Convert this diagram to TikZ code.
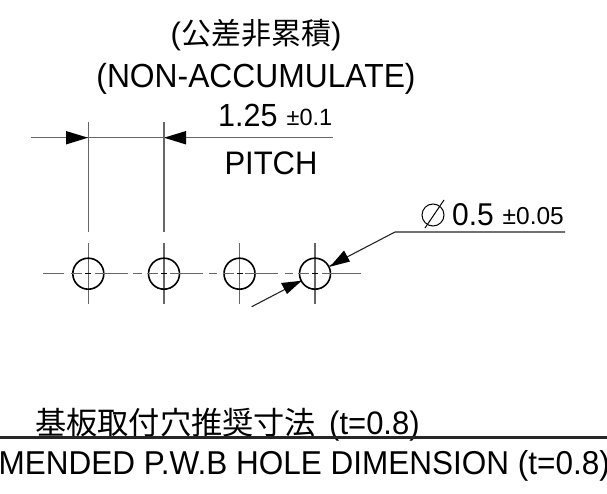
\documentclass[tikz,border=0pt]{standalone}
\usepackage{fontspec}
\setmainfont{Liberation Sans}
\newfontfamily\cjk{Noto Sans CJK JP}
\newcommand{\sz}[1]{\fontsize{#1}{#1}\selectfont}
\tikzset{
  x=1pt,y=-1pt,
  dim/.style={draw=black!60,line width=1.4pt},
  thin leader/.style={draw=black!85,line width=1.1pt},
  hole/.style={draw=black,line width=1.6pt},
  lbl/.style={inner sep=0pt,anchor=base,text=black},
}
\begin{document}
\begin{tikzpicture}
\useasboundingbox (0,0) rectangle (607,494);
\fill[white] (0,0) rectangle (607,494);
% titles
\node[lbl] (t1) at (256,45) {\sz{31}(\cjk\sz{30}公差非累積\sz{31}\normalfont)};
\node[lbl,yscale=1.05] (t2) at (256,87.5) {\sz{31.8}(NON-ACCUMULATE)};
\node[lbl,anchor=base west,yscale=1.05] (d1) at (218,127) {\sz{30.5}1.25};
\node[lbl,anchor=base west] (d1b) at (286.5,126) {\sz{23.5}±0.1};
\node[lbl,yscale=1.05] (pitch) at (271,174.5) {\sz{31}PITCH};
\node[lbl,anchor=base west,yscale=1.05] (d2) at (452,225.5) {\sz{30}0.5};
\node[lbl,anchor=base west] (d2b) at (502.5,225) {\sz{24.5}±0.05};
% phi symbol
\coordinate (phic) at (433,215);
\draw[black,line width=1pt] (phic) circle (11);
\draw[black,line width=1pt] (425,228) -- (444,200);
% dimension line
\coordinate (dl) at (31,137.7); \coordinate (dr) at (333,137.7);
\draw[dim] (dl) -- (dr);
\fill[black] (88,137.7) -- (66,131) -- (66,144.5) -- cycle;
\fill[black] (164,137.7) -- (186,131) -- (186,144.5) -- cycle;
\draw[dim] (88.3,122) -- (88.3,232);
\draw[dim] (164,122) -- (164,232);
% holes
\foreach \n/\x in {a/88.3,b/164,c/239.5,d/315}{
  \draw[dim] (\x,243) -- (\x,304);
  \node[hole,circle,minimum size=31pt,inner sep=0pt] (\n) at (\x,273.7) {};
  \draw[black,line width=1.3pt] (\x-3,273.7) -- (\x+3,273.7);
}
% centre line
\foreach \p/\q in {43/64,71/82,95/128,133/142,147/158,170/203,209/217,223/234,245/278,285/293,298/309,322/361}{
  \draw[dim] (\p,273.7) -- (\q,273.7);
}
% leaders
\coordinate (l1) at (565,232); \coordinate (l2) at (395,232);
\draw[thin leader] (l1) -- (l2) -- (d);
\fill[black] (330,266.7) -- (344,250.5) -- (350,261.5) -- cycle;
\coordinate (l3) at (251.7,306.7);
\draw[thin leader] (l3) -- (d);
\fill[black] (301.7,280.7) -- (281,283) -- (287,294) -- cycle;
% footer
\node[lbl,anchor=base west] (b1) at (35,434.5) {\cjk\sz{31.2}基板取付穴推奨寸法};
\node[lbl,anchor=base west,yscale=1.05] (b1b) at (329,434) {\sz{31}(t=0.8)};
\draw[black!85,line width=2.6pt] (0,437.4) -- (607,437.4);
\node[lbl,anchor=base east,yscale=1.05] (b2) at (610,474.5) {\sz{31.5}MENDED P.W.B HOLE DIMENSION (t=0.8)};
\end{tikzpicture}
\end{document}
